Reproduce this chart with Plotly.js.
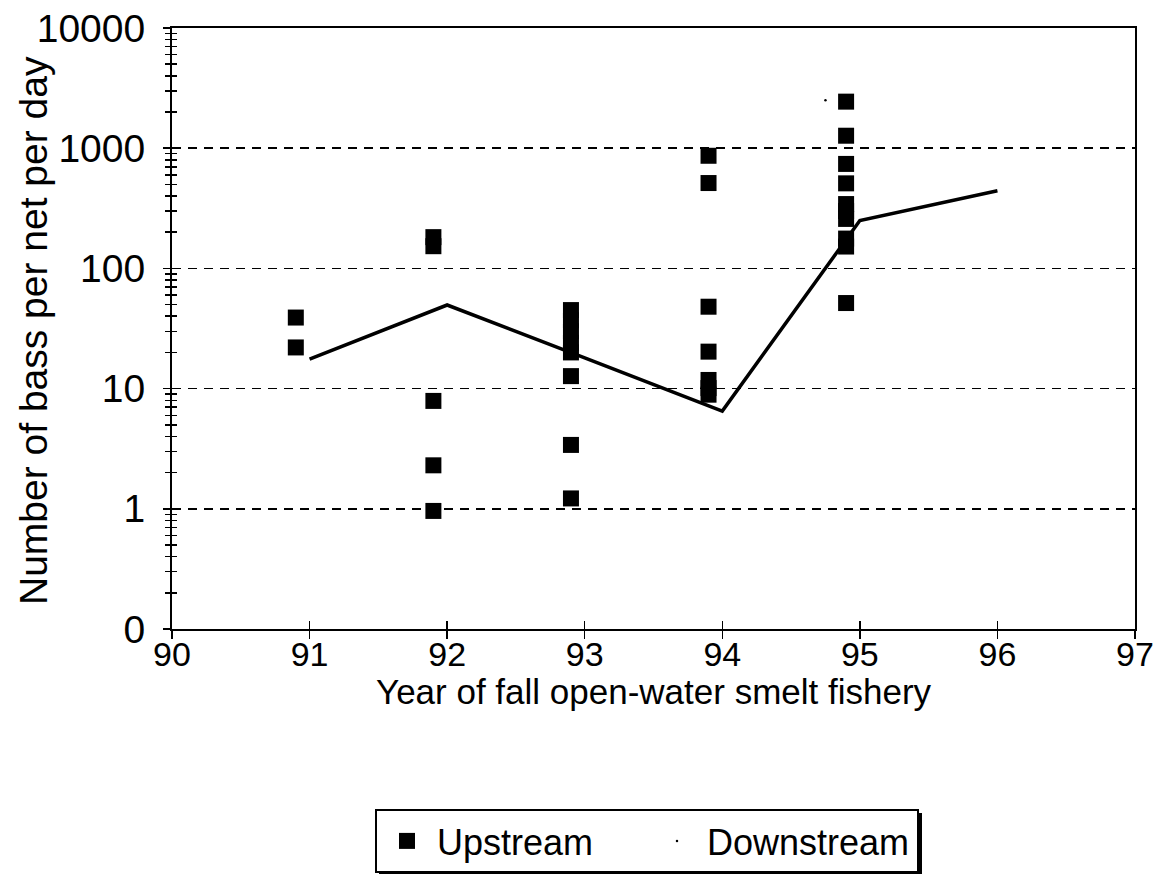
<!DOCTYPE html>
<html>
<head>
<meta charset="utf-8">
<script src="https://cdn.plot.ly/plotly-3.0.1.min.js"></script>
<style>html,body{margin:0;padding:0;background:#fff;}#chart{width:1154px;height:874px;}</style>
</head>
<body>
<div id="chart"></div>
<script>
// Upstream catches (per net per day)
const upstreamYears = [90.9,90.9, 91.9,91.9,91.9,91.9,91.9, 92.9,92.9,92.9,92.9,92.9,92.9,92.9,92.9, 93.9,93.9,93.9,93.9,93.9,93.9,93.9, 94.9,94.9,94.9,94.9,94.9,94.9,94.9,94.9,94.9,94.9];
const upstreamValues = [39,22, 182,153,7.9,2.3,0.96, 45,37,30,24,20,12.7,3.4,1.22, 865,513,48,20.3,11.8,10.1,8.9, 2440,1270,740,510,343,300,258,177,152,51.5];
// Downstream catches
const downstreamYears = [94.75];
const downstreamValues = [2500];
// Trend line
const lineYears = [91,92,93,94,95,96];
const lineValues = [17.6,49.6,18,6.5,250,443];
// Axis ticks
const xTicks = [90,91,92,93,94,95,96,97];
const yTickVals = [0.1,1,10,100,1000,10000];
const yTickText = ['0','1','10','100','1000','10000'];
const yMinorVals = [];
[0.1,1,10,100,1000].forEach(d => { for (let k = 2; k <= 9; k++) yMinorVals.push(d*k); });

const FONT = 'Arial, "Liberation Sans", sans-serif';

// plot area in px: left 172, right 1135, top 28, bottom 629
const px2x = p => (p - 172) / 963;
const px2y = p => (629 - p) / 601;

const traces = [
  {x: upstreamYears, y: upstreamValues, type: 'scatter', mode: 'markers', name: 'Upstream',
   marker: {symbol: 'square', size: 16, color: '#000'}},
  {x: downstreamYears, y: downstreamValues, type: 'scatter', mode: 'markers', name: 'Downstream',
   marker: {symbol: 'circle', size: 2.5, color: '#000'}},
  {x: lineYears, y: lineValues, type: 'scatter', mode: 'lines', showlegend: false,
   line: {color: '#000', width: 3.5}},
  {x: [null], y: [null], xaxis: 'x2', yaxis: 'y2', type: 'scatter', mode: 'markers', showlegend: false, hoverinfo: 'skip'}
];

const layout = {
  width: 1154, height: 874,
  margin: {l: 172, r: 19, t: 28, b: 245, autoexpand: false},
  paper_bgcolor: '#fff', plot_bgcolor: '#fff',
  font: {family: FONT, color: '#000', size: 34},
  showlegend: true,
  xaxis: {
    range: [90, 97], tickvals: xTicks, ticktext: xTicks.map(String),
    showline: true, linecolor: '#000', linewidth: 2, mirror: true,
    ticks: 'outside', ticklen: 8, tickwidth: 1.5, tickcolor: '#000',
    showgrid: false, zeroline: false, ticklabelstandoff: -14, ticklabeloverflow: 'allow',
    tickfont: {size: 34, family: FONT}
  },
  yaxis: {
    type: 'log', range: [-1, 4], tickvals: yTickVals, ticktext: yTickText,
    showline: true, linecolor: '#000', linewidth: 2, mirror: true,
    ticks: 'outside', ticklen: 7, tickwidth: 1.5, tickcolor: '#000',
    minor: {tickvals: yMinorVals, ticks: 'outside', ticklen: 5, tickwidth: 1.5, tickcolor: '#000', showgrid: false},
    showgrid: true, gridcolor: '#000', gridwidth: 1.5, griddash: '9px,7px',
    zeroline: false, ticklabelstandoff: 10, ticklabeloverflow: 'allow',
    tickfont: {size: 39, family: FONT}
  },
  xaxis2: {
    overlaying: 'x', anchor: 'y', range: [90, 97], tickvals: xTicks,
    showticklabels: false, ticks: 'inside', ticklen: 8, tickwidth: 1.5, tickcolor: '#000',
    showline: false, showgrid: false, zeroline: false
  },
  yaxis2: {
    overlaying: 'y', anchor: 'x', type: 'log', range: [-1, 4], tickvals: yTickVals,
    showticklabels: false, ticks: 'inside', ticklen: 7, tickwidth: 1.5, tickcolor: '#000',
    minor: {tickvals: yMinorVals, ticks: 'inside', ticklen: 5, tickwidth: 1.5, tickcolor: '#000', showgrid: false},
    showline: false, showgrid: false, zeroline: false
  },
  annotations: [
    {text: 'Number of bass per net per day', xref: 'paper', yref: 'paper',
     x: px2x(33), y: px2y(331), xanchor: 'center', yanchor: 'middle', textangle: -90,
     showarrow: false, font: {size: 39, family: FONT, color: '#000'}},
    {text: 'Year of fall open-water smelt fishery', xref: 'paper', yref: 'paper',
     x: px2x(654), y: px2y(691), xanchor: 'center', yanchor: 'middle',
     showarrow: false, font: {size: 35, family: FONT, color: '#000'}}
  ],
  shapes: [
    {type: 'rect', xref: 'paper', yref: 'paper', layer: 'below',
     x0: px2x(379), x1: px2x(922), y0: px2y(813), y1: px2y(874),
     fillcolor: '#000', line: {width: 0}}
  ],
  legend: {
    orientation: 'h', x: px2x(375), xanchor: 'left', y: px2y(809), yanchor: 'top',
    bgcolor: '#fff', bordercolor: '#000', borderwidth: 2,
    font: {size: 36, family: FONT}, entrywidth: 205, itemwidth: 50, itemsizing: 'trace'
  }
};

Plotly.newPlot('chart', traces, layout, {displayModeBar: false, staticPlot: true});
</script>
</body>
</html>
